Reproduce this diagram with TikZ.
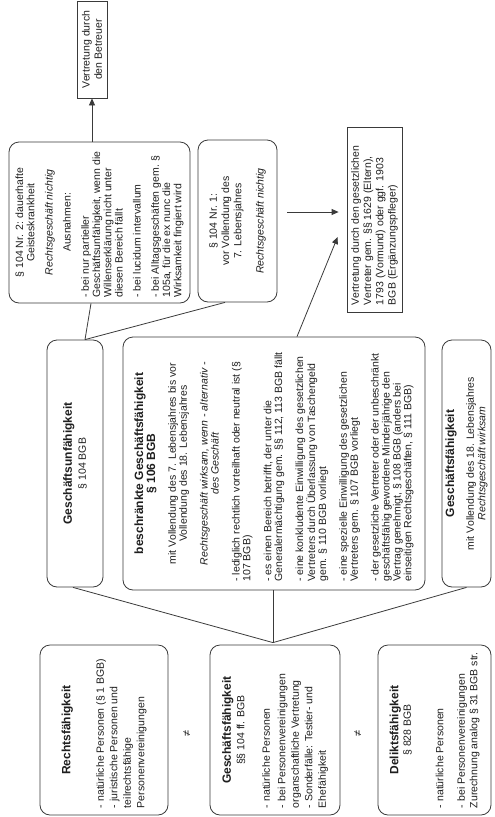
\documentclass[tikz,border=0pt]{standalone}
\usepackage{fontspec}
\setmainfont{Liberation Sans}
\usetikzlibrary{arrows.meta}
\definecolor{lc}{HTML}{3A3A3A}
\definecolor{tc}{HTML}{1E1E1E}
\newcommand{\Ctr}[1]{{\centering #1\par}}
\newcommand{\Lft}[1]{{\raggedright #1\par}}
\newcommand{\Gp}[1]{\vspace{#1}}
\newcommand{\Tb}[1]{{\fontsize{12}{14}\selectfont\bfseries #1}}
\newcommand{\Rt}[3]{\rotatebox{90}{\parbox{#1}{\fontsize{10.5}{#2}\selectfont #3}}}
\tikzset{
  rbox/.style={draw=lc, line width=0.8pt, rounded corners=10pt, inner sep=0pt, text=tc},
  sbox/.style={draw=lc, line width=0.8pt, inner sep=0pt, text=tc},
  conn/.style={draw=lc, line width=0.8pt},
  arr/.style={conn, -{Triangle[length=7pt,width=6pt]}},
}
\begin{document}
\begin{tikzpicture}[x=1pt,y=-1pt]
\useasboundingbox (0,0) rectangle (495,817);
% top row
\node[sbox, minimum width=30pt, minimum height=97pt] (betr) at (92,49.5)
  {\Rt{90pt}{12.3}{\Ctr{Vertretung durch\\den Betreuer}}};
\node[rbox, minimum width=181pt, minimum height=161pt] (nr2) at (99.5,222.5)
  {\Rt{150pt}{11.2}{%
    \Ctr{§ 104 Nr. 2: dauerhafte\\Geisteskrankheit}\Gp{7pt}%
    \Ctr{\itshape Rechtsgeschäft nichtig}\Gp{7pt}%
    \Ctr{Ausnahmen:}\Gp{7pt}%
    \Lft{\mbox{- bei nur partieller}\\\mbox{Geschäftsunfähigkeit, wenn die}\\\mbox{Willenserklärung nicht unter}\\\mbox{diesen Bereich fällt}}\Gp{7pt}%
    \Lft{\mbox{- bei lucidum intervallum}}\Gp{7pt}%
    \Lft{\mbox{- bei Alltagsgeschäften gem. §}\\\mbox{105a, für die ex nunc die}\\\mbox{Wirksamkeit fingiert wird}}}};
\node[rbox, minimum width=79pt, minimum height=162pt] (nr1) at (237.5,221)
  {\Rt{150pt}{12.3}{%
    \Ctr{§ 104 Nr. 1:\\vor Vollendung des\\7. Lebensjahres}\Gp{10pt}%
    \Ctr{\itshape Rechtsgeschäft nichtig}}};
\node[sbox, minimum width=55pt, minimum height=185pt] (vertr) at (374.5,219.5)
  {\Rt{171pt}{12.2}{%
    \Lft{\mbox{Vertretung durch den gesetzlichen}\\\mbox{Vertreter gem. §§ 1629 (Eltern),}\\\mbox{1793 (Vormund) oder ggf. 1903}\\\mbox{BGB (Ergänzungspfleger)}}}};
% middle row
\node[rbox, minimum width=56pt, minimum height=247pt] (gu) at (75,463.5)
  {\Rt{230pt}{14}{\Ctr{\Tb{Geschäftsunfähigkeit}\\§ 104 BGB}}};
\node[rbox, minimum width=302pt, minimum height=253pt] (bg) at (274,463.5)
  {\Rt{236pt}{10.9}{%
    \Ctr{\Tb{beschränkte Geschäftsfähigkeit\\§ 106 BGB}}\Gp{10pt}%
    \Ctr{mit Vollendung des 7. Lebensjahres bis vor\\Vollendung des 18. Lebensjahres}\Gp{10pt}%
    \Ctr{\itshape Rechtsgeschäft wirksam, wenn - alternativ -\\des Geschäft}\Gp{10pt}%
    \Lft{\mbox{- lediglich rechtlich vorteilhaft oder neutral ist (§}\\\mbox{107 BGB)}}\Gp{10pt}%
    \Lft{\mbox{- es einen Bereich betrifft, der unter die}\\\mbox{Generalermächtigung gem. §§ 112, 113 BGB fällt}}\Gp{10pt}%
    \Lft{\mbox{- eine konkludente Einwilligung des gesetzlichen}\\\mbox{Vertreters durch Überlassung von Taschengeld}\\\mbox{gem. § 110 BGB vorliegt}}\Gp{10pt}%
    \Lft{\mbox{- eine spezielle Einwilligung des gesetzlichen}\\\mbox{Vertreters gem. § 107 BGB vorliegt}}\Gp{10pt}%
    \Lft{\mbox{- der gesetzliche Vertreter oder der unbeschränkt}\\\mbox{geschäftsfähig gewordene Minderjährige den}\\\mbox{Vertrag genehmigt, § 108 BGB (anders bei}\\\mbox{einseitigen Rechtsgeschäften, § 111 BGB)}}}};
\node[rbox, minimum width=49pt, minimum height=247pt] (gf) at (466.5,463.5)
  {\Rt{230pt}{11.7}{%
    \Ctr{\Tb{Geschäftsfähigkeit}}\Gp{8pt}%
    \Ctr{mit Vollendung des 18. Lebensjahres\\\itshape Rechtsgeschäft wirksam}}};
% bottom row
\node[rbox, minimum width=128pt, minimum height=170pt] (rf) at (104,730)
  {\Rt{156pt}{13.5}{%
    \Ctr{\Tb{Rechtsfähigkeit}}\Gp{20pt}%
    \Lft{\mbox{- natürliche Personen (§ 1 BGB)}\\\mbox{- juristische Personen und}\\\mbox{teilrechtsfähige}\\\mbox{Personenvereinigungen}}}};
\node[rbox, minimum width=130pt, minimum height=170pt] (gf2) at (275,730)
  {\Rt{156pt}{13.5}{%
    \Ctr{\Tb{Geschäftsfähigkeit}\\§§ 104 ff. BGB}\Gp{12pt}%
    \Lft{\mbox{- natürliche Personen}}\Gp{2pt}%
    \Lft{\mbox{- bei Personenvereinigungen}\\\mbox{organschaftliche Vertretung}\\\mbox{- Sonderfälle: Testier- und}\\\mbox{Ehefähigkeit}}}};
\node[rbox, minimum width=113pt, minimum height=170pt] (df) at (434.5,730)
  {\Rt{156pt}{12.5}{%
    \Ctr{\Tb{Deliktsfähigkeit}\\§ 828 BGB}\Gp{20pt}%
    \Lft{\mbox{- natürliche Personen}}\Gp{9pt}%
    \Lft{\mbox{- bei Personenvereinigungen}\\\mbox{Zurechnung analog § 31 BGB str.}}}};
\node[rotate=90, text=tc, font=\fontsize{11}{12}\selectfont] (ne1) at (187,733) {≠};
\node[rotate=90, text=tc, font=\fontsize{11}{12}\selectfont] (ne2) at (358,733) {≠};
% connectors
\draw[arr] ([xshift=-7.5pt]nr2.north) -- (betr.south);
\draw[arr] ([xshift=10pt,yshift=9pt]nr1.east) -- ([xshift=-8pt,yshift=7.5pt]vertr.west);
\draw[arr] ([xshift=23pt]bg.north) -- ([xshift=-9pt,yshift=-17.5pt]vertr.west);
\draw[conn] ([xshift=-8.5pt]nr2.south) -- ([xshift=10pt]gu.north);
\draw[conn] ([xshift=-12.5pt]nr1.south) -- ([xshift=10pt]gu.north);
\draw[conn] ([xshift=-2pt]gu.south) -- ([xshift=-2pt,yshift=2pt]gf2.north);
\draw[conn] ([xshift=-1pt]bg.south) -- ([xshift=-2pt,yshift=2pt]gf2.north);
\draw[conn] (gf.south) -- ([xshift=-2pt,yshift=2pt]gf2.north);
\end{tikzpicture}
\end{document}
